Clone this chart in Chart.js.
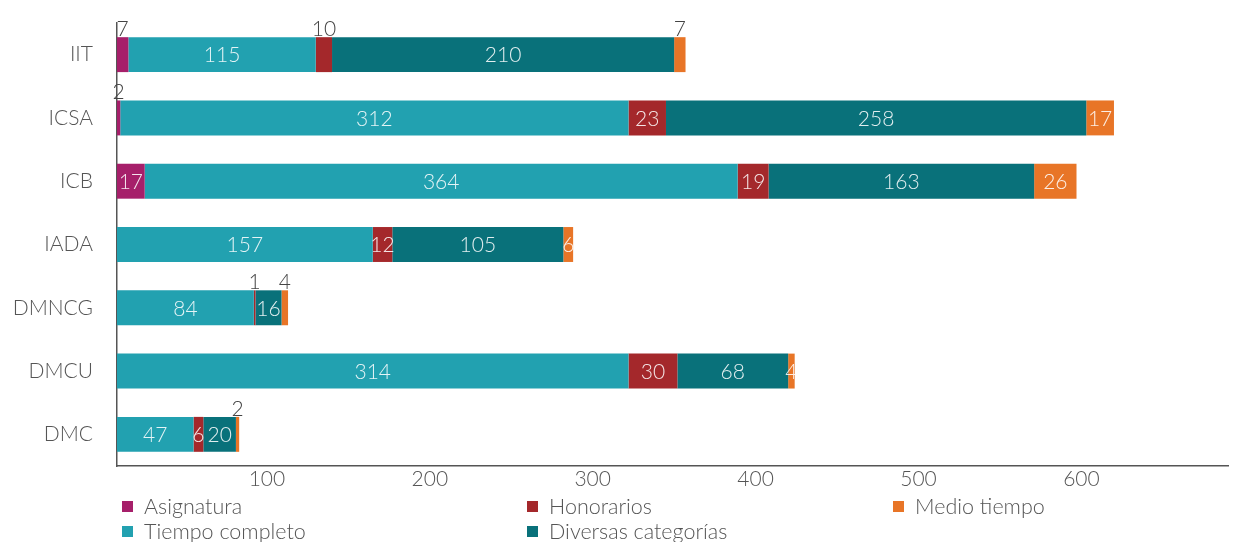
<!DOCTYPE html>
<html>
<head>
<meta charset="utf-8">
<script src="https://cdn.jsdelivr.net/npm/chart.js@4"></script>
<style>
  html, body { margin: 0; padding: 0; background: #fff; }
  #wrap { position: relative; width: 1245px; height: 542px; }
  #legend { position: absolute; left: 0; top: 0; width: 1245px; height: 542px; pointer-events: none;
            font-family: Lato, "Open Sans", sans-serif; font-weight: 300; font-size: 21.5px; color: #555; }
  .li { position: absolute; height: 24px; line-height: 24px; white-space: nowrap; }
  .li .sw { position: absolute; left: 0; top: 7px; width: 11px; height: 11px; }
  .li .tx { position: absolute; left: 22px; top: 0; }
</style>
</head>
<body>
<div id="wrap">
  <canvas id="c" width="1245" height="542"></canvas>
  <div id="legend"></div>
</div>
<script>
const categories = ['IIT', 'ICSA', 'ICB', 'IADA', 'DMNCG', 'DMCU', 'DMC'];
const seriesNames = ['Asignatura', 'Tiempo completo', 'Honorarios', 'Diversas categorías', 'Medio tiempo'];
const asignatura      = [7, 2, 17, 0, 0, 0, 0];
const tiempoCompleto  = [115, 312, 364, 157, 84, 314, 47];
const honorarios      = [10, 23, 19, 12, 1, 30, 6];
const diversas        = [210, 258, 163, 105, 16, 68, 20];
const medioTiempo     = [7, 17, 26, 6, 4, 4, 2];
const xTicks = [100, 200, 300, 400, 500, 600];

const colors = ['#A61F6A', '#22A1B0', '#A4282B', '#09717A', '#E87527'];
// labels drawn above the bar instead of inside (dataset index : category index)
const outsideLabels = new Set(['0:0', '0:1', '2:0', '2:4', '4:0', '4:4', '4:6']);

const seriesData = [asignatura, tiempoCompleto, honorarios, diversas, medioTiempo];
const FONT = 'Lato, "Open Sans", sans-serif';

const labelPlugin = {
  id: 'segLabels',
  afterDatasetsDraw(chart) {
    const ctx = chart.ctx;
    ctx.save();
    ctx.font = '300 21px ' + FONT;
    ctx.textAlign = 'center';
    chart.data.datasets.forEach((ds, di) => {
      const meta = chart.getDatasetMeta(di);
      meta.data.forEach((el, i) => {
        const v = ds.data[i];
        if (!v) return;
        const p = el.getProps(['x', 'y', 'base', 'height'], true);
        const cx = (p.x + p.base) / 2;
        if (outsideLabels.has(di + ':' + i)) {
          ctx.fillStyle = '#444';
          ctx.textBaseline = 'alphabetic';
          ctx.fillText(String(v), cx, p.y - p.height / 2 - 1);
        } else {
          ctx.fillStyle = 'rgba(255,255,255,0.88)';
          ctx.textBaseline = 'middle';
          ctx.fillText(String(v), cx, p.y + 1);
        }
      });
    });
    ctx.restore();
  }
};

new Chart(document.getElementById('c'), {
  type: 'bar',
  data: {
    labels: categories,
    datasets: seriesNames.map((n, i) => ({
      label: n,
      data: seriesData[i],
      backgroundColor: colors[i],
      borderWidth: 0,
      barPercentage: 0.552,
      categoryPercentage: 1.0
    }))
  },
  options: {
    indexAxis: 'y',
    responsive: false,
    animation: false,
    layout: { padding: { top: 23, right: 17, left: 0, bottom: 0 } },
    plugins: { legend: { display: false }, tooltip: { enabled: false } },
    scales: {
      x: {
        stacked: true,
        min: 0,
        max: 682,
        afterFit: s => { s.height = 76; s.paddingLeft = 0; s.paddingRight = 0; },
        afterBuildTicks: s => { s.ticks = xTicks.map(v => ({ value: v })); },
        grid: { display: false, drawTicks: false },
        border: { display: true, color: '#555', width: 1.5 },
        ticks: { color: '#555', font: { family: FONT, size: 21, weight: 300 }, padding: 1, labelOffset: -13, maxRotation: 0 }
      },
      y: {
        stacked: true,
        afterFit: s => { s.width = 117; s.paddingTop = 0; s.paddingBottom = 0; },
        grid: { display: false, drawTicks: false },
        border: { display: true, color: '#555', width: 1.5 },
        ticks: { color: '#555', font: { family: FONT, size: 21, weight: 300 }, padding: 24 }
      }
    }
  },
  plugins: [labelPlugin]
});

// legend (column-major, 3 columns)
const legendPos = [[122, 494], [122, 519], [527, 494], [527, 519], [893, 494]];
const legendOrder = [0, 1, 2, 3, 4];
const lg = document.getElementById('legend');
legendOrder.forEach((si, k) => {
  const d = document.createElement('div');
  d.className = 'li';
  d.style.left = legendPos[k][0] + 'px';
  d.style.top = legendPos[k][1] + 'px';
  d.innerHTML = '<span class="sw" style="background:' + colors[si] + '"></span><span class="tx">' + seriesNames[si] + '</span>';
  lg.appendChild(d);
});
</script>
</body>
</html>
